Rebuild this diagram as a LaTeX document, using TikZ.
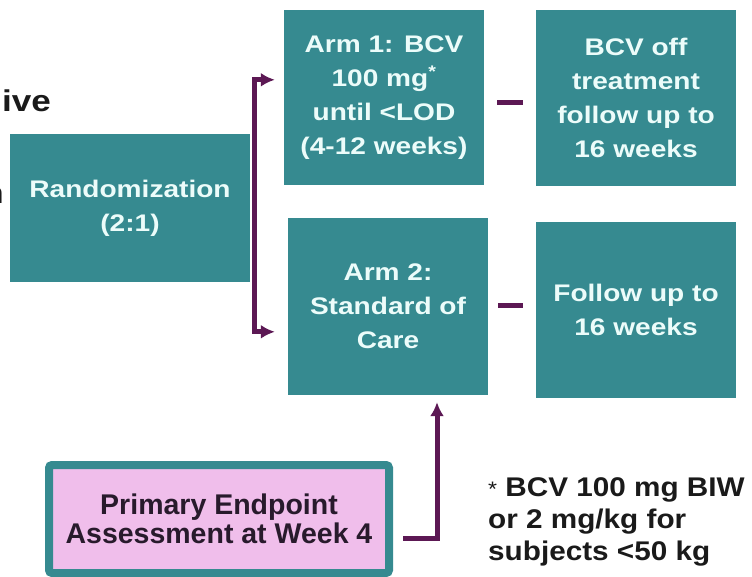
\documentclass[tikz,border=0pt]{standalone}
\usepackage{fontspec}
\setmainfont{Liberation Sans}
\newfontfamily\boxfam{Liberation Sans}[FakeStretch=1.17]
\newfontfamily\notefam{Liberation Sans}[FakeStretch=1.1]
\usetikzlibrary{arrows.meta,calc}
\definecolor{tealbox}{RGB}{54,138,144}
\definecolor{boxtxt}{RGB}{236,252,250}
\definecolor{plum}{RGB}{92,24,84}
\definecolor{pinkfill}{RGB}{240,190,235}
\definecolor{primtxt}{RGB}{40,26,44}
\definecolor{darktxt}{RGB}{26,26,26}
\tikzset{
  tealnode/.style={fill=tealbox, text=boxtxt, inner sep=0pt, align=center,
    font=\boxfam\bfseries\fontsize{24}{34}\selectfont},
  primnode/.style={draw=tealbox, line width=8pt, fill=pinkfill, rounded corners=3pt,
    text=primtxt, inner sep=0pt, align=center, minimum width=340pt, minimum height=108pt,
    font=\bfseries\fontsize{28.5}{29}\selectfont},
  conn/.style={draw=plum, line width=5pt},
  tip/.style={-{Latex[length=14pt,width=14pt]}},
  notetext/.style={text=darktxt, inner sep=0pt, align=left,
    font=\notefam\bfseries\fontsize{27}{32}\selectfont},
  cuttext/.style={text=darktxt, inner sep=0pt, font=\boxfam\bfseries\fontsize{30}{32}\selectfont}
}
\begin{document}
\begin{tikzpicture}[x=1pt,y=-1pt]
\useasboundingbox (0,0) rectangle (752,577);
\clip (0,0) rectangle (752,577);
\fill[white] (0,0) rectangle (752,577);

% cut-off slide text at the left edge
\node[cuttext, anchor=base east] (cut1) at (51,112) {ive};
\node[cuttext, anchor=base east] (cut2) at (4,204) {n};

% boxes
\node[tealnode, minimum width=240pt, minimum height=148pt] (rand) at (130,208) {Randomization\\(2:1)};
\node[tealnode, minimum width=200pt, minimum height=175pt] (arm1) at (384,97.5)
  {Arm 1: BCV\\100 mg\textsuperscript{*}\\until <LOD\\(4-12 weeks)};
\node[tealnode, minimum width=200pt, minimum height=177pt] (arm2) at (388,306.5)
  {Arm 2:\\Standard of\\Care};
\node[tealnode, minimum width=200pt, minimum height=176pt] (r1) at (636,98)
  {BCV off\\treatment\\follow up to\\16 weeks};
\node[tealnode, minimum width=200pt, minimum height=176pt] (r2) at (636,310)
  {Follow up to\\16 weeks};
\node[primnode] (prim) at (219,519) {Primary Endpoint\\Assessment at Week 4};

% footnote
\node[notetext, anchor=north west] (note) at (488,477.5)
  {{\mdseries\fontsize{21}{32}\selectfont *} BCV 100 mg BIW\\or 2 mg/kg for\\subjects <50 kg};

% connectors
\coordinate (b1) at ($(arm1.north west)+(-9,70)$);
\coordinate (b2) at ($(arm2.north west)+(-13,114)$);
\draw[conn, {Latex[length=14pt,width=14pt]}-{Latex[length=14pt,width=14pt]}]
  (b1) -- ++(-20,0) |- (b2);

\draw[conn] ($(arm1.east)+(13,5.5)$) -- ($(r1.west)+(-13,5)$);
\draw[conn] ($(arm2.east)+(10,-1.5)$) -- ($(r2.west)+(-13,-5)$);

\draw[conn, tip] ($(prim.east)+(10,19)$) -| ($(arm2.south)+(49,7)$);
\end{tikzpicture}
\end{document}
